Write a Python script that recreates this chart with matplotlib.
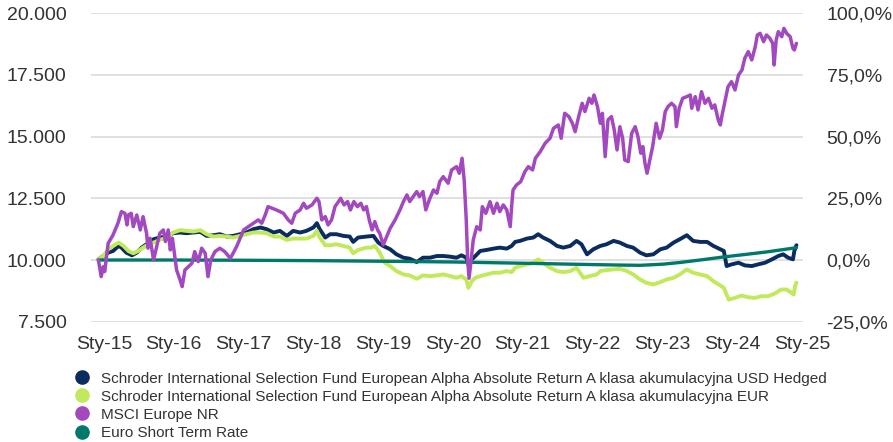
import matplotlib
matplotlib.use("Agg")
import matplotlib.pyplot as plt
from matplotlib.lines import Line2D
from matplotlib.ticker import FuncFormatter, FixedLocator

plt.rcParams['font.family'] = ['Liberation Sans', 'DejaVu Sans']

# ---------------- data ----------------
series_names = [
    "Schroder International Selection Fund European Alpha Absolute Return A klasa akumulacyjna USD Hedged",
    "Schroder International Selection Fund European Alpha Absolute Return A klasa akumulacyjna EUR",
    "MSCI Europe NR",
    "Euro Short Term Rate",
]
series_colors = ["#0B2C5E", "#C1E95B", "#A349BF", "#00796B"]

year_ticks = [2015, 2016, 2017, 2018, 2019, 2020, 2021, 2022, 2023, 2024, 2025]
year_labels = ["Sty-15", "Sty-16", "Sty-17", "Sty-18", "Sty-19", "Sty-20",
               "Sty-21", "Sty-22", "Sty-23", "Sty-24", "Sty-25"]
left_ticks = [7500, 10000, 12500, 15000, 17500, 20000]
right_ticks = [-0.25, 0.0, 0.25, 0.50, 0.75, 1.00]

usd_hedged = [
    (2014.92, 10027), (2014.99, 10163), (2015.06, 10299), (2015.13, 10367), (2015.21, 10571),
    (2015.25, 10503), (2015.32, 10299), (2015.40, 10190), (2015.47, 10299), (2015.54, 10503),
    (2015.61, 10639), (2015.71, 10843), (2015.80, 10911), (2015.90, 10951), (2015.99, 11087),
    (2016.09, 11114), (2016.18, 11087), (2016.28, 11114), (2016.38, 11142), (2016.47, 10978),
    (2016.57, 11006), (2016.66, 11046), (2016.76, 10951), (2016.85, 10978), (2016.95, 11046),
    (2017.04, 11114), (2017.14, 11250), (2017.24, 11318), (2017.33, 11250), (2017.43, 11114),
    (2017.52, 11182), (2017.62, 10978), (2017.71, 11182), (2017.81, 11114), (2017.90, 11182),
    (2018.00, 11318), (2018.05, 11495), (2018.09, 11250), (2018.17, 10911), (2018.24, 11046),
    (2018.33, 11046), (2018.43, 10978), (2018.52, 10951), (2018.57, 10734), (2018.64, 10911),
    (2018.76, 10951), (2018.86, 10978), (2018.93, 10707), (2019.00, 10571), (2019.10, 10435),
    (2019.19, 10231), (2019.29, 10095), (2019.38, 10054), (2019.48, 9918), (2019.57, 10095),
    (2019.67, 10095), (2019.77, 10163), (2019.86, 10163), (2019.96, 10136), (2020.05, 10095),
    (2020.12, 10190), (2020.19, 10095), (2020.22, 9823), (2020.27, 10027), (2020.32, 10163),
    (2020.39, 10367), (2020.48, 10408), (2020.58, 10462), (2020.67, 10503), (2020.77, 10462),
    (2020.84, 10571), (2020.89, 10734), (2020.96, 10775), (2021.06, 10870), (2021.15, 10911),
    (2021.22, 11046), (2021.29, 10911), (2021.39, 10775), (2021.49, 10571), (2021.58, 10503),
    (2021.68, 10571), (2021.77, 10775), (2021.84, 10639), (2021.92, 10231), (2022.01, 10435),
    (2022.11, 10571), (2022.20, 10639), (2022.30, 10775), (2022.39, 10707), (2022.49, 10571),
    (2022.58, 10503), (2022.68, 10299), (2022.77, 10190), (2022.87, 10231), (2022.97, 10435),
    (2023.06, 10503), (2023.16, 10707), (2023.25, 10843), (2023.35, 11006), (2023.44, 10775),
    (2023.54, 10734), (2023.64, 10734), (2023.73, 10571), (2023.83, 10435), (2023.88, 10367),
    (2023.92, 9755), (2023.99, 9823), (2024.09, 9891), (2024.18, 9783), (2024.28, 9755),
    (2024.37, 9823), (2024.47, 9891), (2024.57, 10027), (2024.66, 10163), (2024.73, 10231),
    (2024.80, 10095), (2024.87, 10027), (2024.89, 10367), (2024.92, 10600),
]

eur = [
    (2014.92, 10027), (2014.99, 10163), (2015.06, 10435), (2015.13, 10571), (2015.21, 10707),
    (2015.28, 10571), (2015.35, 10367), (2015.42, 10272), (2015.49, 10367), (2015.56, 10503),
    (2015.64, 10639), (2015.71, 10707), (2015.80, 10815), (2015.90, 10911), (2015.99, 11114),
    (2016.09, 11210), (2016.18, 11182), (2016.28, 11155), (2016.38, 11210), (2016.47, 11046),
    (2016.57, 10951), (2016.66, 10978), (2016.76, 10951), (2016.85, 10911), (2016.95, 10978),
    (2017.04, 11046), (2017.14, 11114), (2017.24, 11114), (2017.33, 11087), (2017.43, 10951),
    (2017.52, 10951), (2017.62, 10815), (2017.71, 10870), (2017.81, 10870), (2017.90, 10870),
    (2018.00, 10978), (2018.05, 11182), (2018.09, 10911), (2018.17, 10598), (2018.24, 10598),
    (2018.33, 10639), (2018.43, 10571), (2018.52, 10503), (2018.57, 10272), (2018.64, 10408),
    (2018.76, 10503), (2018.83, 10503), (2018.88, 10571), (2018.95, 10299), (2019.02, 9891),
    (2019.10, 9755), (2019.19, 9552), (2019.29, 9416), (2019.38, 9375), (2019.48, 9239),
    (2019.57, 9375), (2019.67, 9348), (2019.77, 9375), (2019.86, 9416), (2019.96, 9348),
    (2020.05, 9280), (2020.12, 9348), (2020.19, 9212), (2020.22, 8872), (2020.27, 9144),
    (2020.32, 9280), (2020.39, 9348), (2020.48, 9416), (2020.58, 9484), (2020.67, 9484),
    (2020.77, 9552), (2020.84, 9511), (2020.89, 9687), (2020.96, 9755), (2021.06, 9823),
    (2021.15, 9891), (2021.22, 10027), (2021.29, 9891), (2021.39, 9687), (2021.49, 9552),
    (2021.58, 9511), (2021.68, 9552), (2021.77, 9687), (2021.87, 9280), (2021.96, 9348),
    (2022.06, 9416), (2022.11, 9552), (2022.20, 9592), (2022.30, 9619), (2022.39, 9647),
    (2022.49, 9552), (2022.58, 9416), (2022.68, 9212), (2022.77, 9076), (2022.87, 9008),
    (2022.97, 9103), (2023.06, 9212), (2023.16, 9280), (2023.25, 9416), (2023.35, 9619),
    (2023.44, 9484), (2023.54, 9416), (2023.64, 9348), (2023.73, 9144), (2023.83, 8967),
    (2023.88, 8872), (2023.95, 8396), (2024.04, 8464), (2024.13, 8559), (2024.23, 8492),
    (2024.32, 8464), (2024.42, 8532), (2024.51, 8532), (2024.61, 8641), (2024.70, 8804),
    (2024.78, 8804), (2024.85, 8668), (2024.88, 8600), (2024.90, 8940), (2024.92, 9084),
]

msci = [
    (2014.92, 10004), (2014.96, 9327), (2014.99, 9732), (2015.01, 9530), (2015.06, 10680),
    (2015.13, 11017), (2015.20, 11491), (2015.25, 11961), (2015.30, 11893), (2015.33, 11422),
    (2015.35, 11826), (2015.39, 11893), (2015.42, 11354), (2015.47, 11826), (2015.52, 11219),
    (2015.56, 11758), (2015.61, 11085), (2015.63, 10478), (2015.66, 10883), (2015.71, 10004),
    (2015.76, 10613), (2015.80, 11085), (2015.85, 11219), (2015.88, 10747), (2015.92, 11219),
    (2015.95, 10409), (2015.98, 10883), (2016.02, 10004), (2016.04, 9599), (2016.09, 9193),
    (2016.12, 8922), (2016.16, 9599), (2016.21, 9732), (2016.26, 9867), (2016.30, 10340),
    (2016.35, 9935), (2016.40, 10478), (2016.45, 10275), (2016.49, 9327), (2016.53, 10004),
    (2016.59, 10340), (2016.66, 10478), (2016.73, 10340), (2016.81, 10070), (2016.85, 10275),
    (2016.90, 10545), (2016.95, 10883), (2017.00, 11219), (2017.07, 11354), (2017.14, 11491),
    (2017.21, 11626), (2017.26, 11491), (2017.31, 11826), (2017.35, 12163),
    (2017.47, 12030), (2017.57, 11896), (2017.64, 11624), (2017.69, 11491), (2017.74, 11896),
    (2017.81, 12030), (2017.86, 12301), (2017.90, 12099), (2017.98, 12233), (2018.05, 12504),
    (2018.08, 12368), (2018.12, 11624), (2018.17, 11760), (2018.21, 11422), (2018.26, 11624),
    (2018.31, 12166), (2018.36, 12368), (2018.39, 12504), (2018.44, 12233), (2018.49, 12368),
    (2018.53, 12030), (2018.58, 12368), (2018.63, 12166), (2018.68, 12301), (2018.72, 12030),
    (2018.76, 12166), (2018.80, 11624), (2018.84, 11219), (2018.88, 11557), (2018.92, 11219),
    (2018.95, 11085), (2019.00, 10613), (2019.05, 10950), (2019.10, 11287), (2019.17, 11624),
    (2019.24, 12030), (2019.29, 12368), (2019.34, 12638), (2019.38, 12368), (2019.43, 12570),
    (2019.48, 12773), (2019.52, 12570), (2019.57, 12773), (2019.61, 12030), (2019.66, 12436),
    (2019.72, 12840), (2019.77, 12706), (2019.81, 13176), (2019.86, 13379),
    (2019.93, 13112), (2019.98, 13650), (2020.05, 13784), (2020.09, 13515), (2020.13, 14125),
    (2020.16, 13245), (2020.19, 11624), (2020.21, 10004), (2020.23, 9262), (2020.26, 10004),
    (2020.29, 10815), (2020.34, 11354), (2020.39, 11219), (2020.42, 12163), (2020.47, 11893),
    (2020.53, 12366), (2020.58, 11893), (2020.63, 12300), (2020.67, 11960), (2020.72, 12233),
    (2020.77, 12030), (2020.82, 11354), (2020.84, 12163), (2020.86, 12840), (2020.91, 13043),
    (2020.97, 13176), (2021.03, 13582), (2021.08, 13784), (2021.14, 13650), (2021.18, 14125),
    (2021.25, 14392), (2021.32, 14732), (2021.39, 14935), (2021.44, 15340), (2021.51, 15474),
    (2021.55, 14935), (2021.60, 15948), (2021.66, 15813), (2021.71, 15543), (2021.75, 15203),
    (2021.80, 15813), (2021.85, 16353), (2021.89, 16015), (2021.95, 16556), (2021.99, 16353),
    (2022.02, 16690), (2022.07, 16218), (2022.11, 15543), (2022.14, 15948), (2022.18, 14190),
    (2022.22, 15678), (2022.27, 15813), (2022.31, 15270), (2022.35, 14460),
    (2022.39, 15405), (2022.43, 14935), (2022.46, 14056), (2022.51, 13987), (2022.56, 15138),
    (2022.61, 15405), (2022.65, 15000), (2022.69, 14327), (2022.72, 14597), (2022.75, 13922),
    (2022.78, 13517), (2022.82, 14056), (2022.86, 14597), (2022.91, 15543), (2022.96, 14935),
    (2023.00, 15270), (2023.04, 16013), (2023.08, 16218), (2023.13, 16353), (2023.18, 16218),
    (2023.20, 15405), (2023.24, 16150), (2023.29, 16556), (2023.35, 16623), (2023.40, 16690),
    (2023.42, 16150), (2023.47, 16623), (2023.51, 16083), (2023.56, 16823), (2023.61, 16353),
    (2023.66, 16556), (2023.71, 16150), (2023.75, 16285), (2023.80, 15676), (2023.83, 15474),
    (2023.85, 15810), (2023.90, 16488), (2023.94, 17026), (2023.99, 17229), (2024.04, 16892),
    (2024.09, 17500), (2024.14, 17701), (2024.18, 18177), (2024.23, 18447), (2024.28, 18110),
    (2024.33, 18647), (2024.36, 19121), (2024.40, 19188), (2024.45, 18850), (2024.49, 19121),
    (2024.54, 18985), (2024.58, 18783), (2024.60, 17905), (2024.63, 18918), (2024.66, 19255),
    (2024.71, 19053), (2024.74, 19390), (2024.78, 19188), (2024.83, 19053), (2024.87, 18580),
    (2024.89, 18512), (2024.92, 18783),
]

estr = [
    (2014.92, 10000), (2016.00, 10000), (2017.00, 9990), (2018.00, 9975), (2019.00, 9950),
    (2020.00, 9920), (2021.00, 9870), (2022.00, 9815), (2022.40, 9795), (2022.68, 9785),
    (2023.00, 9830), (2023.25, 9900), (2023.54, 10000), (2023.87, 10122), (2024.20, 10230),
    (2024.50, 10330), (2024.92, 10500),
]

# ---------------- figure ----------------
W, H = 893, 442
fig = plt.figure(figsize=(W / 100, H / 100), dpi=100)
ax = fig.add_axes([91 / W, 1 - 321.7 / H, 712 / W, 308.4 / H])

text_color = "#333333"
draw_order = [(usd_hedged, 0, 2.8), (eur, 1, 2.8), (estr, 3, 2.4), (msci, 2, 2.5)]
for z, (data, idx, lw) in enumerate(draw_order):
    t, v = zip(*data)
    ax.plot(t, v, color=series_colors[idx], lw=lw, solid_joinstyle="round",
            solid_capstyle="round", zorder=3 + z)

ax.set_xlim(2014.814, 2025.014)
ax.set_ylim(7500, 20000)
ax.xaxis.set_major_locator(FixedLocator(year_ticks))
ax.set_xticklabels(year_labels)
ax.yaxis.set_major_locator(FixedLocator(left_ticks))
ax.yaxis.set_major_formatter(FuncFormatter(lambda v, p: f"{int(round(v)):,}".replace(",", ".")))
ax.grid(axis="y", color="#DDDDDD", lw=1.3, zorder=0)
ax.grid(axis="x", visible=False)
for s in ax.spines.values():
    s.set_visible(False)
ax.tick_params(axis="x", length=0, pad=10, labelsize=14, labelcolor=text_color)
ax.tick_params(axis="y", length=0, pad=17.5, labelsize=14, labelcolor=text_color)

ax2 = ax.twinx()
ax2.set_ylim(-0.25, 1.0)
ax2.yaxis.set_major_locator(FixedLocator(right_ticks))
ax2.yaxis.set_major_formatter(FuncFormatter(lambda v, p: f"{v * 100:.1f}%".replace(".", ",")))
for s in ax2.spines.values():
    s.set_visible(False)
ax2.tick_params(axis="y", length=0, pad=17, labelsize=14, labelcolor=text_color)

handles = [Line2D([], [], marker="o", linestyle="none", markersize=9.5,
                  markerfacecolor=c, markeredgecolor=c) for c in series_colors]
leg = fig.legend(handles, series_names, loc="upper left",
                 bbox_to_anchor=(74 / W, 1 - 371.5 / H), frameon=False,
                 fontsize=11, handlelength=1.0, handletextpad=0.75,
                 labelspacing=0.27, borderpad=0, borderaxespad=0)
for txt in leg.get_texts():
    txt.set_color(text_color)

fig.savefig("out.png", dpi=100)
